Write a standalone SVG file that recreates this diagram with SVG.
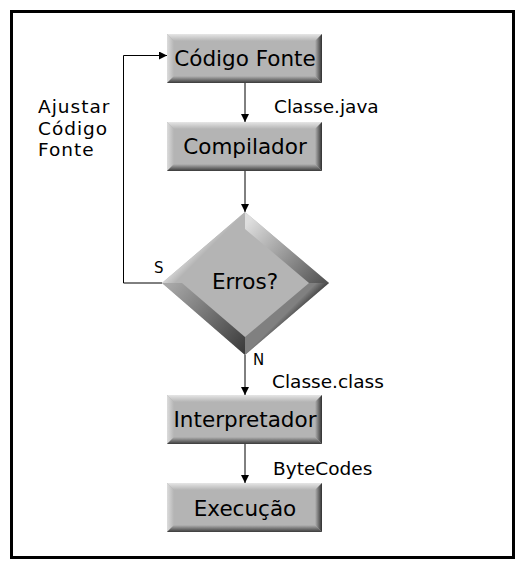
<svg xmlns="http://www.w3.org/2000/svg" xmlns:xlink="http://www.w3.org/1999/xlink" width="525" height="563" viewBox="0 0 525 563">
<style>
.lbl{font-family:"DejaVu Sans",Verdana,sans-serif;font-size:21.5px;fill:#000;text-anchor:middle}
.note{font-family:"DejaVu Sans",Verdana,sans-serif;font-size:18.5px;fill:#000}
.side{font-family:"DejaVu Sans",Verdana,sans-serif;font-size:18.5px;letter-spacing:1px;fill:#000}
.yn{font-family:"DejaVu Sans",Verdana,sans-serif;font-size:15px;fill:#000}
.con{fill:none;stroke:#000;stroke-width:1}
</style>
<defs>
<marker id="ah" viewBox="0 0 10 10" refX="10" refY="5" markerWidth="8" markerHeight="8" markerUnits="userSpaceOnUse" orient="auto">
<path d="M0,0 L10,5 L0,10 z" fill="#000"/>
</marker>
<linearGradient id="gT" x1="0" y1="0" x2="0" y2="1"><stop offset="0" stop-color="#e6e6e6"/><stop offset="1" stop-color="#b4b4b4"/></linearGradient>
<linearGradient id="gL" x1="0" y1="0" x2="1" y2="0"><stop offset="0" stop-color="#dcdcdc"/><stop offset="1" stop-color="#b4b4b4"/></linearGradient>
<linearGradient id="gB" x1="0" y1="0" x2="0" y2="1"><stop offset="0" stop-color="#b4b4b4"/><stop offset="1" stop-color="#3a3a3a"/></linearGradient>
<linearGradient id="gR" x1="0" y1="0" x2="1" y2="0"><stop offset="0" stop-color="#b4b4b4"/><stop offset="1" stop-color="#303030"/></linearGradient>
<g id="box">
<rect x="0" y="0" width="155" height="49" fill="#b4b4b4"/>
<polygon points="0,0 155,0 148,7 7,7" fill="url(#gT)"/>
<polygon points="0,0 7,7 7,42 0,49" fill="url(#gL)"/>
<polygon points="0,49 7,42 148,42 155,49" fill="url(#gB)"/>
<polygon points="155,0 155,49 148,42 148,7" fill="url(#gR)"/>
</g>
<linearGradient id="dTL" gradientUnits="userSpaceOnUse" x1="194" y1="238" x2="207" y2="251"><stop offset="0" stop-color="#f2f2f2"/><stop offset="1" stop-color="#b4b4b4"/></linearGradient>
<linearGradient id="dTR" gradientUnits="userSpaceOnUse" x1="250" y1="220" x2="322" y2="283"><stop offset="0" stop-color="#dedede"/><stop offset="1" stop-color="#555555"/></linearGradient>
<linearGradient id="dBR" gradientUnits="userSpaceOnUse" x1="297" y1="328" x2="284" y2="315"><stop offset="0" stop-color="#0a0a0a"/><stop offset="1" stop-color="#808080"/></linearGradient>
<linearGradient id="dBL" gradientUnits="userSpaceOnUse" x1="170" y1="283" x2="245" y2="350"><stop offset="0" stop-color="#a8a8a8"/><stop offset="1" stop-color="#3c3c3c"/></linearGradient>
</defs>
<rect x="11.5" y="11.5" width="502" height="546" fill="#fff" stroke="#000" stroke-width="3"/>
<g id="connectors">
<line class="con" x1="245" y1="83" x2="245" y2="122" marker-end="url(#ah)"/>
<line class="con" x1="245" y1="171" x2="245" y2="212" marker-end="url(#ah)"/>
<line class="con" x1="245" y1="355" x2="245" y2="395" marker-end="url(#ah)"/>
<line class="con" x1="245" y1="444" x2="245" y2="483" marker-end="url(#ah)"/>
<polyline class="con" points="162,283 123.5,283 123.5,55.5 167,55.5" marker-end="url(#ah)"/>
</g>
<g id="codigo-fonte">
<use xlink:href="#box" x="167" y="34"/>
<text class="lbl" x="245" y="66">Código Fonte</text>
</g>
<g id="compilador">
<use xlink:href="#box" x="167" y="122"/>
<text class="lbl" x="245" y="154">Compilador</text>
</g>
<g id="erros">
<polygon points="245,212 329,283 245,355 162,283" fill="#b4b4b4"/>
<polygon points="162,283 245,212 245,229 182,283" fill="url(#dTL)"/>
<polygon points="245,212 329,283 309,283 245,229" fill="url(#dTR)"/>
<polygon points="329,283 245,355 245,337 309,283" fill="url(#dBR)"/>
<polygon points="245,355 162,283 182,283 245,337" fill="url(#dBL)"/>
<text class="lbl" x="245" y="289">Erros?</text>
</g>
<g id="interpretador">
<use xlink:href="#box" x="167" y="395"/>
<text class="lbl" x="245" y="427">Interpretador</text>
</g>
<g id="execucao">
<use xlink:href="#box" x="167" y="483"/>
<text class="lbl" x="245" y="516">Execução</text>
</g>
<g id="labels">
<text class="side" x="38" y="113"><tspan x="38" y="113">Ajustar</tspan><tspan x="38" y="134.5">Código</tspan><tspan x="38" y="156">Fonte</tspan></text>
<text class="note" x="274" y="113">Classe.java</text>
<text class="note" x="272" y="388">Classe.class</text>
<text class="note" x="273" y="475">ByteCodes</text>
<text class="yn" x="154" y="273">S</text>
<text class="yn" x="253" y="365">N</text>
</g>
</svg>
